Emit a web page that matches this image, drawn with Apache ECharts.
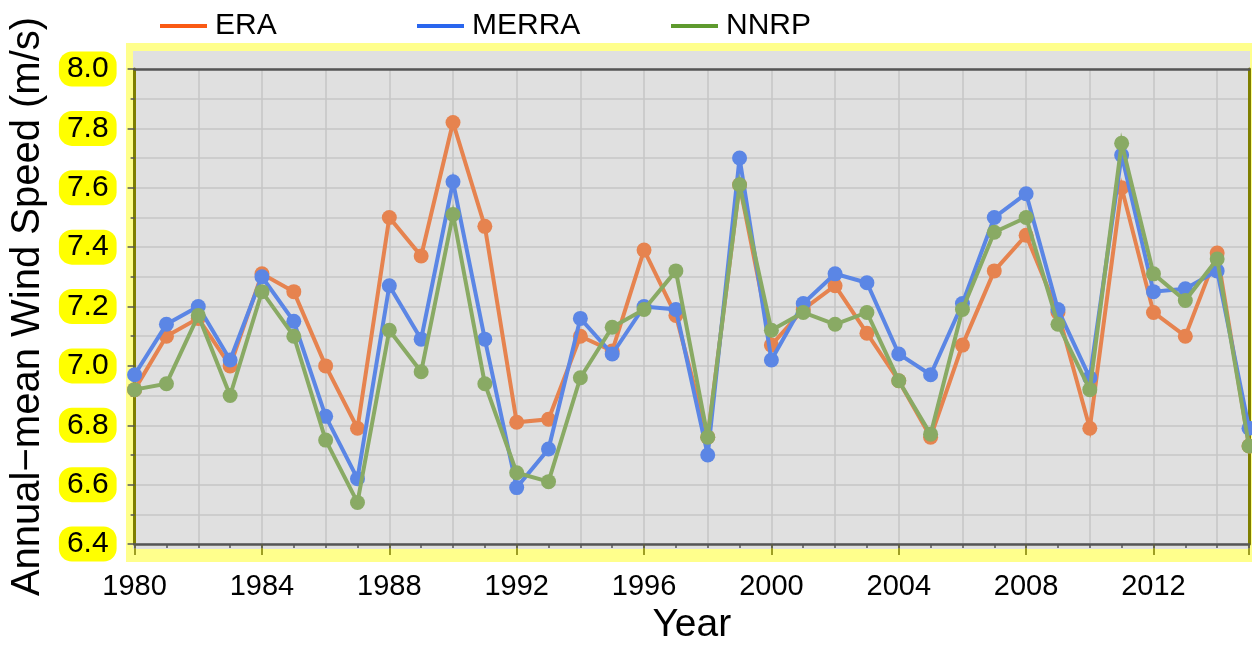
<!DOCTYPE html>
<html>
<head>
<meta charset="utf-8">
<script src="https://cdn.jsdelivr.net/npm/echarts@6/dist/echarts.min.js"></script>
<style>html,body{margin:0;padding:0;background:#fff}#c{width:1252px;height:650px}</style>
</head>
<body>
<div id="c"></div>
<script>
var years = [1980,1981,1982,1983,1984,1985,1986,1987,1988,1989,1990,1991,1992,1993,1994,1995,1996,1997,1998,1999,2000,2001,2002,2003,2004,2005,2006,2007,2008,2009,2010,2011,2012,2013,2014,2015];
var era   = [6.92,7.10,7.16,7.00,7.31,7.25,7.00,6.79,7.50,7.37,7.82,7.47,6.81,6.82,7.10,7.05,7.39,7.17,6.76,7.61,7.07,7.19,7.27,7.11,6.95,6.76,7.07,7.32,7.44,7.18,6.79,7.60,7.18,7.10,7.38,6.73];
var merra = [6.97,7.14,7.20,7.02,7.30,7.15,6.83,6.62,7.27,7.09,7.62,7.09,6.59,6.72,7.16,7.04,7.20,7.19,6.70,7.70,7.02,7.21,7.31,7.28,7.04,6.97,7.21,7.50,7.58,7.19,6.96,7.71,7.25,7.26,7.32,6.79];
var nnrp  = [6.92,6.94,7.17,6.90,7.25,7.10,6.75,6.54,7.12,6.98,7.51,6.94,6.64,6.61,6.96,7.13,7.19,7.32,6.76,7.61,7.12,7.18,7.14,7.18,6.95,6.77,7.19,7.45,7.50,7.14,6.92,7.75,7.31,7.22,7.36,6.73];
var seriesNames = ['ERA','MERRA','NNRP'];
var yTicks = [6.4,6.6,6.8,7.0,7.2,7.4,7.6,7.8,8.0];

function pairs(vals){ return years.map(function(y,i){ return [y, vals[i]]; }); }

var FONT = 'Liberation Sans, Arial, sans-serif';
var OLIVE = '#7f7f00';
var DARK = '#555555';
var GRIDC = '#c6c6c6';
var lineCols = ['#e6834f','#5b86e5','#89aa64'];
var legendCols = ['#fa5a14','#2a66ee','#5e9a2e'];
var legendLeft = [155, 412, 666];

var chart = echarts.init(document.getElementById('c'), null, {renderer:'canvas'});

var xBase = {type:'value', min:1980, max:2015, gridIndex:0, position:'bottom'};
function ax(extra){ var o={}; for (var k in xBase) o[k]=xBase[k]; for (var k2 in extra) o[k2]=extra[k2]; return o; }

var option = {
  animation:false,
  backgroundColor:'#ffffff',
  graphic:[
    {type:'rect', z:-20, silent:true, shape:{x:126,y:43,width:1126,height:519}, style:{fill:'#ffff8c'}},
    {type:'rect', z:-19, silent:true, shape:{x:133,y:51,width:1117,height:498}, style:{fill:'#e0e0e0'}}
  ],
  legend: seriesNames.map(function(n,i){
    return {
      left:legendLeft[i], top:6, icon:'rect', itemWidth:47, itemHeight:4,
      data:[{name:n, itemStyle:{color:legendCols[i]}}],
      textStyle:{fontFamily:FONT, fontSize:30, color:'#000', padding:[0,0,0,3]}
    };
  }),
  grid:{left:131, right:2, top:69, bottom:101, containLabel:false},
  xAxis:[
    ax({
      name:'Year', nameLocation:'middle', nameGap:62,
      nameTextStyle:{fontFamily:FONT, fontSize:39, color:'#000'},
      interval:4,
      axisLine:{show:true, onZero:false, lineStyle:{color:DARK, width:2.5}},
      axisTick:{show:true, length:11, lineStyle:{color:OLIVE, width:1.5}},
      axisLabel:{show:true, margin:28, fontFamily:FONT, fontSize:29, color:'#000',
        formatter:function(v){ return (Math.round(v)%4===0 && v<2015) ? String(Math.round(v)) : ''; }},
      splitLine:{show:false}
    }),
    ax({
      interval:2,
      axisLine:{show:false}, axisTick:{show:false}, axisLabel:{show:false},
      splitLine:{show:true, lineStyle:{color:GRIDC, width:1.5}}
    }),
    ax({
      interval:1,
      axisLine:{show:false}, axisLabel:{show:false},
      axisTick:{show:true, length:4, lineStyle:{color:DARK, width:1.5}},
      splitLine:{show:false}
    }),
    {type:'value', min:1980, max:2015, gridIndex:0, position:'top',
      axisLine:{show:true, onZero:false, lineStyle:{color:DARK, width:2.5}},
      axisTick:{show:false}, axisLabel:{show:false}, splitLine:{show:false}}
  ],
  yAxis:[
    {type:'value', min:yTicks[0], max:yTicks[yTicks.length-1], interval:0.2, position:'left',
      name:'Annual\u2212mean Wind Speed (m/s)', nameLocation:'middle', nameGap:84, nameRotate:90,
      nameTextStyle:{fontFamily:FONT, fontSize:40, color:'#000'},
      axisLine:{show:true, onZero:false, lineStyle:{color:OLIVE, width:3}},
      axisTick:{show:true, length:7, lineStyle:{color:DARK, width:1.5}},
      minorTick:{show:true, splitNumber:2, length:4, lineStyle:{color:DARK, width:1.5}},
      splitLine:{show:true, lineStyle:{color:GRIDC, width:1.5}},
      minorSplitLine:{show:true, lineStyle:{color:GRIDC, width:1.5}},
      axisLabel:{show:true, margin:18, fontFamily:FONT, fontSize:30, color:'#000',
        backgroundColor:'#ffff00', borderRadius:13, padding:[3,8,2,8],
        formatter:function(v){ return v.toFixed(1); }}
    },
    {type:'value', min:yTicks[0], max:yTicks[yTicks.length-1], interval:0.2, position:'right',
      axisLine:{show:true, onZero:false, lineStyle:{color:OLIVE, width:3}},
      axisTick:{show:false}, axisLabel:{show:false}, splitLine:{show:false}}
  ],
  series:[era, merra, nnrp].map(function(vals,i){
    return {
      name:seriesNames[i], type:'line', xAxisIndex:0, yAxisIndex:0,
      data:pairs(vals), symbol:'circle', symbolSize:15, clip:false,
      lineStyle:{color:lineCols[i], width:4, join:'miter', miterLimit:6},
      itemStyle:{color:lineCols[i]},
      z:2+i
    };
  })
};
chart.setOption(option);
</script>
</body>
</html>
